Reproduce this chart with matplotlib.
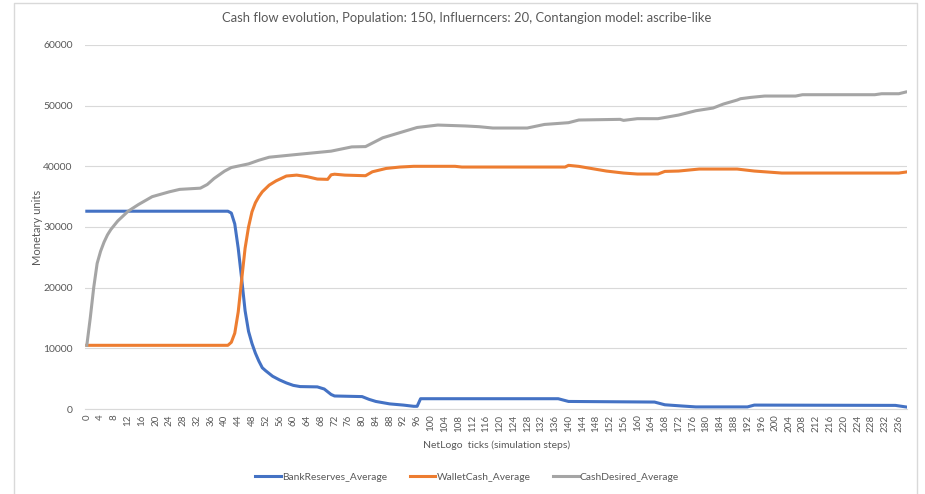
import matplotlib.pyplot as plt
from matplotlib.lines import Line2D

# values (tick, value)
bank_ticks = [0, 41, 42, 43, 44, 45, 46, 47, 48, 49, 50, 51, 52, 54, 56, 58, 60, 62, 67, 69,
              71, 72, 80, 82, 84, 88, 92, 95, 96, 97, 137, 140, 165, 168, 173, 177, 192, 194,
              235, 238]
bank_vals = [32600, 32600, 32300, 30500, 26500, 21500, 16200, 12800, 10800, 9200, 7900, 6800,
             6300, 5400, 4800, 4300, 3900, 3700, 3650, 3300, 2400, 2150, 2050, 1600, 1250, 850,
             650, 450, 450, 1700, 1700, 1250, 1150, 700, 500, 350, 350, 650, 600, 350]

wallet_ticks = [0, 41, 42, 43, 44, 45, 46, 47, 48, 49, 50, 51, 53, 55, 58, 61, 64, 67, 70, 71,
                72, 75, 81, 83, 87, 91, 95, 107, 109, 139, 140, 143, 151, 156, 160, 166, 168,
                172, 178, 189, 194, 202, 236, 238]
wallet_vals = [10500, 10500, 11000, 12500, 16000, 21300, 26500, 30000, 32500, 34000, 35000,
               35800, 36900, 37600, 38400, 38550, 38300, 37900, 37850, 38600, 38700, 38550,
               38450, 39100, 39650, 39880, 40000, 40000, 39880, 39880, 40160, 39990, 39220,
               38890, 38730, 38730, 39160, 39220, 39550, 39550, 39220, 38890, 38890, 39050]

desired_ticks = [0, 1, 2, 3, 4, 5, 6, 7, 9, 12, 15, 19, 24, 27, 33, 35, 37, 40, 42, 47, 50, 53,
                 61, 71, 77, 81, 86, 91, 96, 102, 110, 114, 118, 128, 133, 140, 143, 155, 156,
                 160, 166, 172, 177, 182, 185, 189, 190, 193, 197, 206, 208, 229, 231, 236, 238]
desired_vals = [10500, 15000, 20000, 24000, 26000, 27500, 28700, 29600, 31000, 32600, 33700,
                35000, 35800, 36200, 36400, 37000, 38000, 39200, 39800, 40400, 41000, 41500,
                41950, 42500, 43200, 43250, 44700, 45550, 46400, 46800, 46650, 46530, 46310,
                46310, 46900, 47190, 47630, 47740, 47570, 47850, 47850, 48450, 49160, 49600,
                50260, 50920, 51140, 51360, 51580, 51580, 51800, 51800, 51960, 51960, 52240]

series_names = ['BankReserves_Average', 'WalletCash_Average', 'CashDesired_Average']
colors = ['#4472C4', '#ED7D31', '#A5A5A5']

n_ticks = 239
x_labels = list(range(0, n_ticks, 4))
y_labels = list(range(0, 60001, 10000))

plt.rcParams['font.family'] = ['Lato', 'DejaVu Sans']
txt = '#595959'

fig = plt.figure(figsize=(9.25, 4.94), dpi=100)
ax = fig.add_axes([0.092, 0.172, 0.889, 0.737])

data = [(bank_ticks, bank_vals), (wallet_ticks, wallet_vals), (desired_ticks, desired_vals)]
for (xs, ys), name, c in zip(data, series_names, colors):
    ax.plot(xs, ys, color=c, lw=2.2, label=name, solid_joinstyle='round')

ax.set_xlim(-0.5, n_ticks - 0.5)
ax.set_ylim(0, 60000)
ax.set_xticks(x_labels)
ax.set_xticklabels([str(v) for v in x_labels], rotation=90, fontsize=7, color=txt)
ax.set_yticks(y_labels)
ax.set_yticklabels([str(v) for v in y_labels], fontsize=7.5, color=txt)
ax.tick_params(length=0)
ax.tick_params(axis='y', pad=9)
ax.tick_params(axis='x', pad=4)
ax.grid(axis='y', color='#D9D9D9', lw=0.8)
ax.set_axisbelow(True)
for s in ['top', 'right', 'left']:
    ax.spines[s].set_visible(False)
ax.spines['bottom'].set_color('#D9D9D9')

# title is centred on the whole chart frame, not on the plot area
fig.text(0.504, 1 - 18 / 494,
         'Cash flow evolution, Population: 150, Influerncers: 20, Contangion model: ascribe-like',
         fontsize=9.4, color=txt, ha='center', va='center')
ax.set_ylabel('Monetary units', fontsize=8, color=txt)
ax.yaxis.set_label_coords(-0.051, 0.5)
ax.set_xlabel('NetLogo  ticks (simulation steps)', fontsize=7.5, color=txt, labelpad=6)

handles = [Line2D([], [], color=c, lw=2.2) for c in colors]
fig.legend(handles, series_names, loc='center', bbox_to_anchor=(0.505, 0.034), ncol=3,
           frameon=False, fontsize=7.4, labelcolor=txt, handlelength=2.5, columnspacing=2.2,
           handletextpad=0.1)

# chart frame
fig.add_artist(Line2D([14 / 925, 14 / 925, 917 / 925, 917 / 925], [0, 1 - 3.5 / 494, 1 - 3.5 / 494, 0],
                      color='#D9D9D9', lw=1, transform=fig.transFigure))

fig.savefig('out.png', dpi=100)
